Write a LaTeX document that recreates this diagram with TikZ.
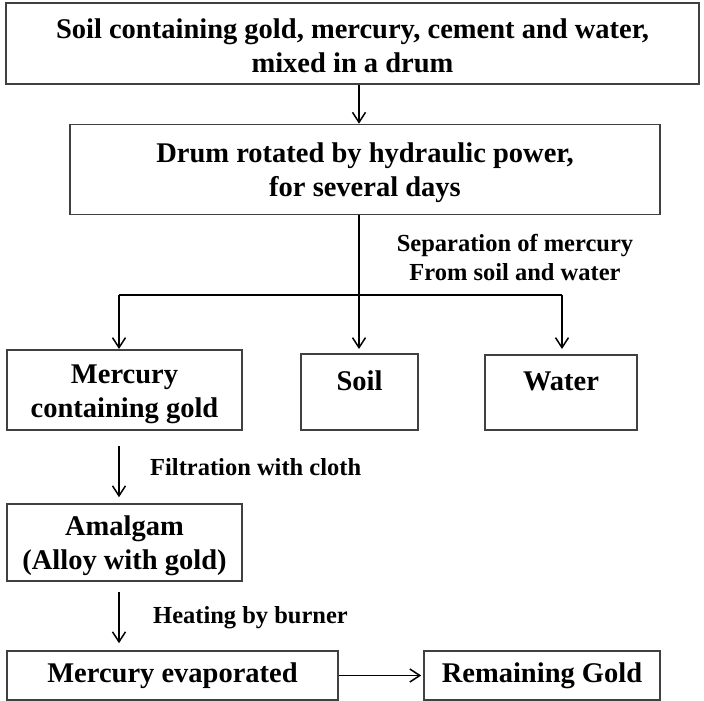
\documentclass[tikz,border=0pt]{standalone}
\usepackage{fontspec}
\setmainfont{Liberation Serif}
\usetikzlibrary{arrows.meta}
\begin{document}
\begin{tikzpicture}[x=1pt,y=-1pt,
  box/.style={draw=black!75, line width=1.6pt, align=center, inner sep=0pt,
    font=\fontsize{28.5}{34}\selectfont\bfseries},
  twoline/.style={text height=61pt},
  lbl/.style={inner sep=0pt, align=center, font=\fontsize{24.5}{29}\selectfont\bfseries},
  arr/.style={line width=1.5pt, -{Straight Barb[length=10pt,width=13pt,line width=1.5pt]}},
  ln/.style={line width=1.5pt}]
\useasboundingbox (0,0) rectangle (704,701);
% boxes
\node[box, text height=57.5pt, minimum width=693pt, minimum height=81pt] (b1) at (352.5,43.5)
  {Soil containing gold, mercury, cement and water,\\mixed in a drum};
\node[box, twoline, minimum width=590pt, minimum height=90pt] (b2) at (365,169.5)
  {Drum rotated by hydraulic power,\\for several days};
\node[box, twoline, minimum width=235pt, minimum height=80pt] (merc) at (124.5,390)
  {Mercury\\containing gold};
\node[box, minimum width=117pt, minimum height=76pt, text height=19pt, text depth=23pt] (soil) at (359.5,392)
  {Soil};
\node[box, minimum width=152pt, minimum height=75pt, text height=19pt, text depth=23pt] (water) at (561,392.5)
  {Water};
\node[box, twoline, minimum width=235pt, minimum height=77pt] (amal) at (124.5,542.5)
  {Amalgam\\(Alloy with gold)};
\node[box, minimum width=331pt, minimum height=49pt] (evap) at (172.5,675.5)
  {Mercury evaporated};
\node[box, minimum width=236pt, minimum height=49pt] (gold) at (542,675.5)
  {Remaining Gold};
% labels
\node[lbl, anchor=north] (sep) at (515,234)
  {Separation of mercury\\From soil and water};
\node[lbl, anchor=base west] (filt) at (150,475) {Filtration with cloth};
\node[lbl, anchor=base west] (heat) at (153,623) {Heating by burner};
% coordinates
\coordinate (c1) at (119,0);
\coordinate (cm) at (359,0);
\coordinate (cw) at (562,0);
\coordinate (j) at (359,295);
\coordinate (tips) at (0,349);
% connectors
\draw[arr] (b1.south -| cm) -- (b2.north -| cm);
\draw[ln] (j -| c1) -- (j -| cw);
\draw[arr] (b2.south -| cm) -- (tips -| cm);
\draw[arr] (j -| c1) -- (tips -| c1);
\draw[arr] (j -| cw) -- (tips -| cw);
\draw[arr, shorten <=15pt, shorten >=6pt] (merc.south -| c1) -- (amal.north -| c1);
\draw[arr, shorten <=10pt, shorten >=7pt] (amal.south -| c1) -- (evap.north -| c1);
\draw[arr, shorten >=2pt] (evap.east) -- (gold.west);
\end{tikzpicture}
\end{document}
